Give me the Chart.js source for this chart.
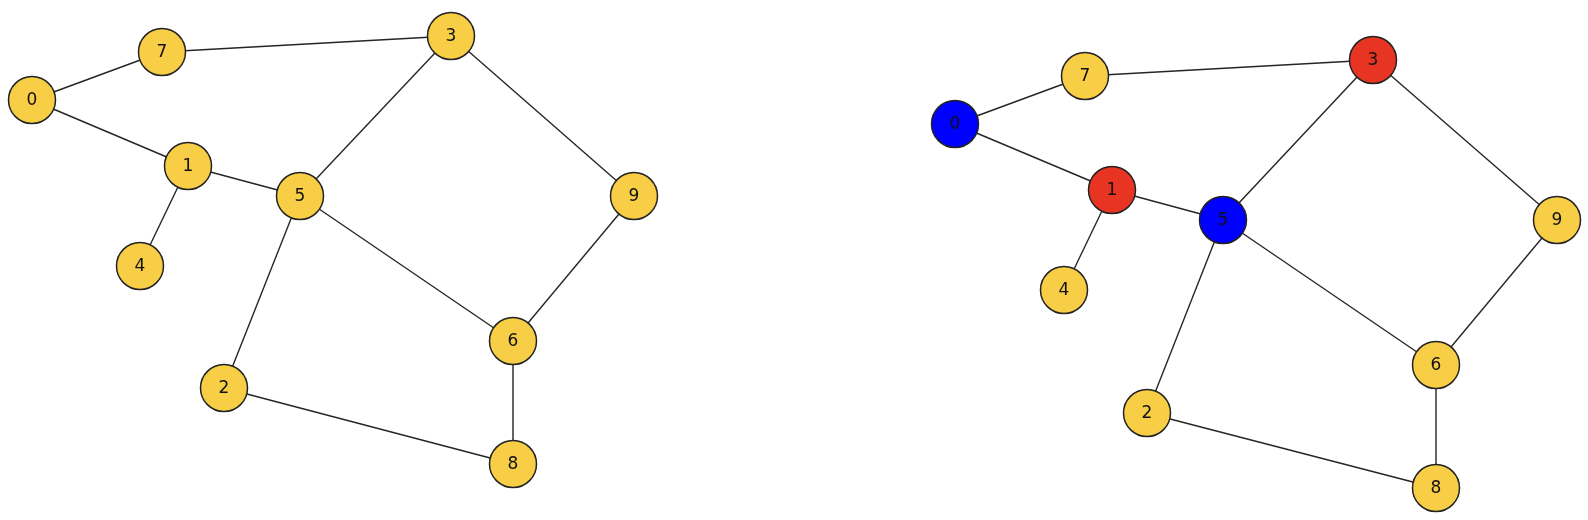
<!DOCTYPE html>
<html>
<head>
<meta charset="utf-8">
<title>Graph coloring</title>
<script src="https://cdn.jsdelivr.net/npm/chart.js@4.4.1/dist/chart.umd.min.js"></script>
<style>
  html, body { margin: 0; padding: 0; background: #ffffff; }
  #graph { display: block; }
</style>
</head>
<body>
<canvas id="graph" width="1588" height="520"></canvas>
<script>
// nodes of the graph (same graph drawn twice)
const nodeIds = ["0", "1", "2", "3", "4", "5", "6", "7", "8", "9"];

// left drawing (uncoloured)
const leftX = [32, 188, 224, 451, 140, 300, 513, 162, 513, 634];
const leftY = [100, 166, 388, 36, 266, 196, 341, 52, 464, 196];

// right drawing (partial colouring)
const rightX = [955, 1112, 1147, 1373, 1064, 1223, 1436, 1085, 1436, 1557];
const rightY = [124, 190, 413, 60, 290, 220, 365, 76, 488, 220];
const rightGroup = ["blue", "red", "none", "red", "none", "blue", "none", "none", "none", "none"];

// edges (pairs of node ids)
const edges = [
    [0, 7], [7, 3], [0, 1], [1, 5], [1, 4], [3, 5],
    [3, 9], [5, 6], [5, 2], [9, 6], [6, 8], [2, 8],
];

const fillFor = { none: "#F7CE46", red: "#E83423", blue: "#0000FF" };

function points(xs, ys) {
    return xs.map((x, i) => ({ x: x, y: ys[i] }));
}

function edgeSets(xs, ys) {
    return edges.map(([a, b]) => ({
        type: "scatter",
        data: [{ x: xs[a], y: ys[a] }, { x: xs[b], y: ys[b] }],
        showLine: true,
        borderColor: "#262626",
        borderWidth: 1.4,
        pointRadius: 0,
        fill: false,
        clip: false,
        order: 2,
    }));
}

function nodeSet(xs, ys, colors) {
    return {
        type: "scatter",
        data: points(xs, ys),
        pointRadius: 23.5,
        pointBackgroundColor: colors,
        pointBorderColor: "#222222",
        pointBorderWidth: 1.5,
        clip: false,
        order: 1,
        isNode: true,
    };
}

// draw the node ids in the middle of each circle
const nodeLabels = {
    id: "nodeLabels",
    afterDatasetsDraw(chart) {
        const ctx = chart.ctx;
        ctx.save();
        ctx.font = "17px 'DejaVu Sans', sans-serif";
        ctx.fillStyle = "#111111";
        ctx.textAlign = "center";
        ctx.textBaseline = "middle";
        chart.data.datasets.forEach((ds, i) => {
            if (!ds.isNode) return;
            chart.getDatasetMeta(i).data.forEach((pt, j) => {
                ctx.fillText(nodeIds[j], pt.x, pt.y + 1);
            });
        });
        ctx.restore();
    },
};

const ctx = document.getElementById("graph").getContext("2d");

new Chart(ctx, {
    type: "scatter",
    data: {
        datasets: [
            nodeSet(leftX, leftY, nodeIds.map(() => fillFor.none)),
            nodeSet(rightX, rightY, rightGroup.map((g) => fillFor[g])),
            ...edgeSets(leftX, leftY),
            ...edgeSets(rightX, rightY),
        ],
    },
    options: {
        responsive: false,
        animation: false,
        devicePixelRatio: 1,
        events: [],
        layout: { padding: 0, autoPadding: false },
        plugins: {
            legend: { display: false },
            tooltip: { enabled: false },
            title: { display: false },
        },
        scales: {
            x: { type: "linear", min: 0, max: 1588, display: false },
            y: { type: "linear", min: 0, max: 520, reverse: true, display: false },
        },
    },
    plugins: [nodeLabels],
});
</script>
</body>
</html>
